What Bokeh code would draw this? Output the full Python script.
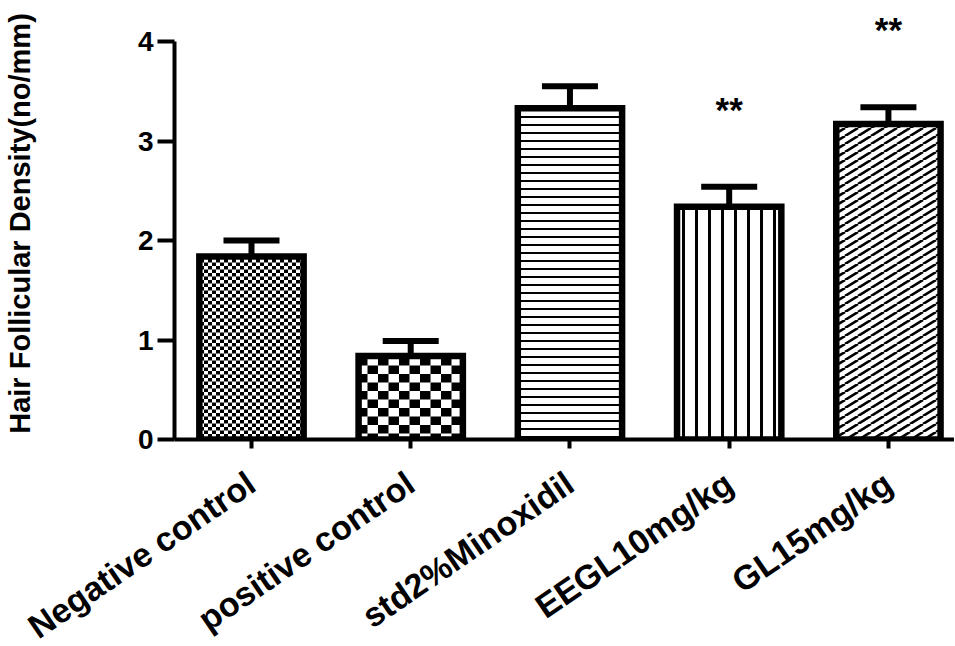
import base64
from bokeh.plotting import figure
from bokeh.models import (Range1d, FixedTicker, ColumnDataSource,
                          ImageURLTexture, Whisker, TeeHead, CDSView, IndexFilter)
from bokeh.embed import file_html
from bokeh.resources import INLINE
from bokeh.core.properties import value

# ---- data ----
categories = ["Negative control", "positive control", "std2%Minoxidil",
              "EEGL10mg/kg", "GL15mg/kg"]
means = [1.84, 0.84, 3.33, 2.34, 3.17]
sems = [0.16, 0.15, 0.22, 0.20, 0.17]
significance = ["", "", "", "**", "**"]
y_ticks = [0, 1, 2, 3, 4]
y_label = "Hair Follicular Density(no/mm)"

# ---- styles ----
FONT = "Liberation Sans"


def svg_texture(w, h, body):
    svg = ('<svg xmlns="http://www.w3.org/2000/svg" width="%s" height="%s">'
           '<rect width="%s" height="%s" fill="white"/>%s</svg>') % (w, h, w, h, body)
    return ImageURLTexture(
        repetition="repeat",
        url="data:image/svg+xml;base64," + base64.b64encode(svg.encode()).decode())


def checker_texture(cw, ch):
    body = ('<rect width="%s" height="%s" fill="black"/>'
            '<rect x="%s" y="%s" width="%s" height="%s" fill="black"/>') % (
        cw, ch, cw, ch, cw, ch)
    return svg_texture(2 * cw, 2 * ch, body)


def diagonal_texture(w, h, sw):
    body = ''.join(
        '<line x1="%s" y1="%s" x2="%s" y2="%s" stroke="black" stroke-width="%s"/>'
        % (dx, h, dx + w, 0, sw) for dx in (-w, 0, w))
    return svg_texture(w, h, body)


fine_checker = checker_texture(4, 3.5)
coarse_checker = checker_texture(10.5, 8.5)
diag = diagonal_texture(13, 8, 2.6)

xs = list(range(len(categories)))
uppers = [m + s for m, s in zip(means, sems)]
src = ColumnDataSource(dict(x=xs, top=means, upper=uppers))

bar_styles = [
    dict(hatch_pattern=value("fchk"), hatch_extra={"fchk": fine_checker}),
    dict(hatch_pattern=value("cchk"), hatch_extra={"cchk": coarse_checker}),
    dict(hatch_pattern="-", hatch_scale=8, hatch_weight=2),
    dict(hatch_pattern="|", hatch_scale=13, hatch_weight=3),
    dict(hatch_pattern=value("diag"), hatch_extra={"diag": diag}),
]

p = figure(frame_width=780, frame_height=432,
           min_border_left=173, min_border_right=0, min_border_top=7,
           min_border_bottom=205,
           x_range=Range1d(-0.4835, 4.415), y_range=Range1d(0, 4.342),
           output_backend="svg", toolbar_location=None,
           background_fill_color="white", border_fill_color="white")
p.outline_line_color = None
p.grid.visible = False

for i, st in enumerate(bar_styles):
    p.vbar(x="x", top="top", bottom=0, width=0.655, source=src,
           view=CDSView(filter=IndexFilter([i])),
           fill_color="white", line_color="black", line_width=6.5,
           line_join="miter", hatch_color="black", **st)

w = Whisker(base="x", upper="upper", lower="top", source=src,
            line_width=6, line_color="black",
            upper_head=TeeHead(size=56, line_width=6, line_color="black"),
            lower_head=None)
p.add_layout(w)

# significance stars
sx = [x for x, s in zip(xs, significance) if s]
sy = [u + 0.78 for u, s in zip(uppers, significance) if s]
stx = [s for s in significance if s]
p.text(x=sx, y=sy, text=stx, text_align="center", text_baseline="middle",
       text_font=value(FONT), text_font_size="35px", text_font_style="bold",
       text_color="black")

# y axis
ya = p.yaxis[0]
ya.ticker = FixedTicker(ticks=y_ticks)
ya.bounds = (min(y_ticks), max(y_ticks))
ya.axis_line_width = 4
ya.major_tick_line_width = 4
ya.major_tick_out = 17
ya.major_tick_in = 0
ya.minor_tick_line_color = None
ya.major_label_text_font = FONT
ya.major_label_text_font_style = "bold"
ya.major_label_text_font_size = "28px"
ya.major_label_text_color = "black"
ya.major_label_standoff = 4
ya.axis_label = y_label
ya.axis_label_text_font = FONT
ya.axis_label_text_font_style = "bold"
ya.axis_label_text_font_size = "29px"
ya.axis_label_text_color = "black"
ya.axis_label_standoff = 99
try:
    ya.axis_label_align = "left"
except Exception:
    pass

# x axis
xa = p.xaxis[0]
xa.ticker = FixedTicker(ticks=xs)
xa.major_label_overrides = {i: c for i, c in zip(xs, categories)}
xa.major_label_orientation = 0.60
xa.axis_line_width = 4
xa.major_tick_line_width = 4
xa.major_tick_out = 9
xa.major_tick_in = 0
xa.minor_tick_line_color = None
xa.major_label_text_font = FONT
xa.major_label_text_font_style = "bold"
xa.major_label_text_font_size = "34px"
xa.major_label_text_color = "black"
xa.major_label_standoff = 31

open("out.html", "w").write(file_html(p, INLINE))
